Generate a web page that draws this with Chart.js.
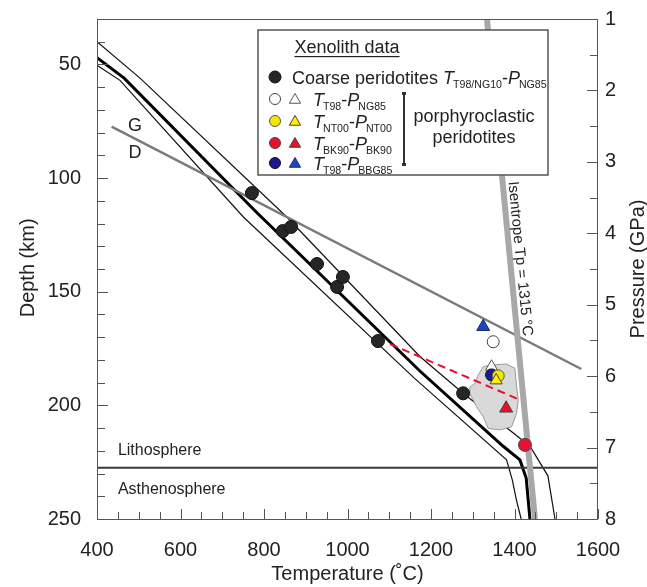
<!DOCTYPE html>
<html><head><meta charset="utf-8">
<script src="https://cdn.jsdelivr.net/npm/chart.js@4/dist/chart.umd.min.js"></script>
<style>html,body{margin:0;padding:0;background:#fff;}#wrap{width:647px;height:587px;}</style>
</head><body><div id="wrap"><canvas id="c" width="647" height="587"></canvas></div>
<script>
const FONT = '"Liberation Sans", Arial, Helvetica, sans-serif';

// ---- axis ticks ----
const tempTicks = [400, 600, 800, 1000, 1200, 1400, 1600];
const depthTicks = [50, 100, 150, 200, 250];
const pressureTicks = [1, 2, 3, 4, 5, 6, 7, 8];

// ---- geotherms (temperature °C, depth km) ----
const geoMainT = [400, 465, 782, 1174, 1373, 1413, 1428, 1437];
const geoMainD = [47, 56, 115, 185, 218, 224, 232, 250];
const geoHotT = [400, 503, 854, 1174, 1277, 1437, 1480, 1497];
const geoHotD = [40, 56, 117, 178.6, 194.7, 218, 231, 250];
const geoCoolT = [400, 455, 750, 1160, 1381, 1395, 1405, 1416];
const geoCoolD = [50.4, 57, 117, 188, 224, 233, 242, 250];

// G-D graphite-diamond line
const gdT = [435, 1560];
const gdD = [77.4, 184];
// isentrope
const isenT = [1334, 1449];
const isenD = [30, 250];
// lithosphere / asthenosphere boundary
const labT = [400, 1600];
const labD = [227.5, 227.5];
// red dashed trend
const dashT = [1102, 1413];
const dashD = [173, 197.6];
// grey field of porphyroclastic data
const blobT = [1313, 1325, 1345, 1381, 1401, 1405, 1409, 1405, 1393, 1365, 1337, 1325, 1309, 1293, 1293, 1305, 1313];
const blobD = [186.6, 183, 182.2, 181.8, 183.7, 191.8, 197.6, 203.5, 209.4, 210.8, 210.1, 205, 200.6, 194.7, 192, 190.3, 186.6];

// ---- xenolith data ----
const coarseT = [771, 845, 865, 927, 975, 989, 1073, 1277];
const coarseD = [106.6, 123.3, 121.5, 137.8, 147.9, 143.5, 171.7, 194.7];
const t98ngCircleT = [1349];  const t98ngCircleD = [172];
const t98ngTriT = [1345];     const t98ngTriD = [183];
const nt00CircleT = [1361];   const nt00CircleD = [187];
const nt00TriT = [1356];      const nt00TriD = [189];
const bk90CircleT = [1425];   const bk90CircleD = [217.4];
const bk90TriT = [1380];      const bk90TriD = [201.3];
const bbgCircleT = [1345];    const bbgCircleD = [186.6];
const bbgTriT = [1325];       const bbgTriD = [165.4];

// text annotation anchors (data coordinates)
const labelG = {T: 491, D: 77};
const labelD = {T: 491, D: 89};
const labelLitho = {T: 450, D: 220};
const labelAstheno = {T: 450, D: 237};
const labelIsenD = 135.5;
const depthTitleD = 139.5;

const pts = (T, D) => T.map((t, i) => ({x: t, y: D[i]}));

function marker(data, style, fill, stroke, r, order) {
  return {data, pointStyle: style, pointRadius: r, pointHoverRadius: r, backgroundColor: fill,
    borderColor: stroke, borderWidth: 1, pointBorderWidth: 1, showLine: false, order};
}
function line(data, color, width, order, extra) {
  return Object.assign({data, borderColor: color, borderWidth: width, pointRadius: 0, pointHoverRadius: 0,
    showLine: true, fill: false, tension: 0, order}, extra || {});
}

const datasets = [
  marker(pts(coarseT, coarseD), 'circle', '#262626', '#111', 6.5, 0),
  marker(pts(t98ngCircleT, t98ngCircleD), 'circle', '#ffffff', '#444', 6, 0),
  marker(pts(bbgTriT, bbgTriD), 'triangle', '#1f45c0', '#1a2a70', 7.5, 0),
  marker(pts(nt00TriT, nt00TriD), 'triangle', '#fff000', '#444', 7, 0),
  marker(pts(nt00CircleT, nt00CircleD), 'circle', '#f5e600', '#555', 6, 1),
  marker(pts(bbgCircleT, bbgCircleD), 'circle', '#1a1a8c', '#111', 6, 1),
  marker(pts(t98ngTriT, t98ngTriD), 'triangle', '#ffffff', '#555', 7, 1),
  marker(pts(bk90TriT, bk90TriD), 'triangle', '#e8112d', '#444', 7.5, 0),
  marker(pts(bk90CircleT, bk90CircleD), 'circle', '#e8112d', '#444', 6.5, 0),
  line(pts(dashT, dashD), '#e8112d', 2, 2, {borderDash: [8, 5]}),
  line(pts(blobT, blobD), '#9a9a9a', 1, 3, {fill: 'shape', backgroundColor: '#d9d9d9'}),
  line(pts(isenT, isenD), '#a8a8a8', 6, 4),
  line(pts(gdT, gdD), '#7a7a7a', 2.5, 5),
  line(pts(labT, labD), '#3a3a3a', 2, 6),
  line(pts(geoMainT, geoMainD), '#000', 3, 7),
  line(pts(geoHotT, geoHotD), '#111', 1.2, 8),
  line(pts(geoCoolT, geoCoolD), '#111', 1.2, 8),
];

const tickFont = {family: FONT, size: 20};
const titleFont = {family: FONT, size: 20};
const TEXT = '#222';

function richText(ctx, x, y, parts, size) {
  let cx = x;
  ctx.fillStyle = TEXT;
  ctx.textAlign = 'left'; ctx.textBaseline = 'alphabetic';
  for (const p of parts) {
    const sz = p.sub ? 10.6 : size;
    ctx.font = (p.it ? 'italic ' : '') + sz + 'px ' + FONT;
    ctx.fillText(p.t, cx, y + (p.sub ? 4 : 0));
    cx += ctx.measureText(p.t).width - (p.it ? 1 : 0);
  }
}
function circ(ctx, x, y, r, fill, stroke) {
  ctx.beginPath(); ctx.arc(x, y, r, 0, Math.PI * 2);
  ctx.fillStyle = fill; ctx.fill(); ctx.lineWidth = 1; ctx.strokeStyle = stroke; ctx.stroke();
}
function tri(ctx, x, y, r, fill, stroke) {
  ctx.beginPath();
  for (let k = 0; k < 3; k++) {
    const a = k * 2 * Math.PI / 3;
    const px = x + Math.sin(a) * r, py = y - Math.cos(a) * r;
    k ? ctx.lineTo(px, py) : ctx.moveTo(px, py);
  }
  ctx.closePath(); ctx.fillStyle = fill; ctx.fill(); ctx.lineWidth = 1; ctx.strokeStyle = stroke; ctx.stroke();
}

const decor = {
  id: 'decor',
  afterDraw(chart) {
    const ctx = chart.ctx;
    const xs = chart.scales.x, ys = chart.scales.y, ps = chart.scales.y2;
    const a = chart.chartArea;
    const X = v => xs.getPixelForValue(v), Y = v => ys.getPixelForValue(v);
    ctx.save();
    // frame
    ctx.strokeStyle = '#555'; ctx.lineWidth = 1;
    ctx.strokeRect(a.left + 0.5, a.top + 0.5, a.right - a.left - 1, a.bottom - a.top);
    // inward ticks
    ctx.beginPath();
    for (let v = 400; v <= 1600; v += 50) {
      const px = Math.round(X(v)) + 0.5, len = v % 200 === 0 ? 10 : 7;
      ctx.moveTo(px, a.bottom); ctx.lineTo(px, a.bottom - len);
    }
    for (let v = 30; v <= 250; v += 10) {
      const py = Math.round(Y(v)) + 0.5, len = v % 50 === 0 ? 11 : 8;
      ctx.moveTo(a.left, py); ctx.lineTo(a.left + len, py);
    }
    for (let v = 1; v <= 8; v += 0.5) {
      const py = Math.round(ps.getPixelForValue(v)) + 0.5, len = v % 1 === 0 ? 11 : 8;
      ctx.moveTo(a.right, py); ctx.lineTo(a.right - len, py);
    }
    ctx.stroke();

    // text annotations
    ctx.fillStyle = TEXT;
    ctx.textAlign = 'center'; ctx.textBaseline = 'middle';
    ctx.font = '18px ' + FONT;
    ctx.fillText('G', X(labelG.T), Y(labelG.D));
    ctx.fillText('D', X(labelD.T), Y(labelD.D));
    ctx.textAlign = 'left';
    ctx.font = '16px ' + FONT;
    ctx.fillText('Lithosphere', X(labelLitho.T), Y(labelLitho.D));
    ctx.fillText('Asthenosphere', X(labelAstheno.T), Y(labelAstheno.D));

    // isentrope label
    const x0 = X(isenT[0]), y0 = Y(isenD[0]), x1 = X(isenT[1]), y1 = Y(isenD[1]);
    const ang = Math.atan2(y1 - y0, x1 - x0);
    const ly = Y(labelIsenD), lx = x0 + (x1 - x0) * (ly - y0) / (y1 - y0);
    ctx.save();
    ctx.translate(lx + 10, ly);
    ctx.rotate(ang);
    ctx.textAlign = 'center'; ctx.textBaseline = 'middle';
    ctx.font = '15px ' + FONT;
    ctx.fillText('Isentrope Tp = 1315 °C', 0, 0);
    ctx.restore();

    // axis titles (left and right), rotated bottom-to-top
    ctx.font = '20px ' + FONT; ctx.fillStyle = TEXT;
    ctx.textAlign = 'center'; ctx.textBaseline = 'middle';
    ctx.save();
    ctx.translate(28, Y(depthTitleD));
    ctx.rotate(-Math.PI / 2);
    ctx.fillText('Depth (km)', 0, 0);
    ctx.restore();
    ctx.save();
    ctx.translate(638, (a.top + a.bottom) / 2);
    ctx.rotate(-Math.PI / 2);
    ctx.fillText('Pressure (GPa)', 0, 0);
    ctx.restore();

    // legend box
    ctx.fillStyle = '#fff';
    ctx.fillRect(258, 30, 290, 145);
    ctx.strokeStyle = '#555'; ctx.lineWidth = 1.5;
    ctx.strokeRect(258, 30, 290, 145);
    ctx.fillStyle = TEXT;
    ctx.textAlign = 'center'; ctx.textBaseline = 'alphabetic';
    ctx.font = '18px ' + FONT;
    ctx.fillText('Xenolith data', 347, 53);
    const w = ctx.measureText('Xenolith data').width;
    ctx.fillRect(347 - w / 2, 56, w, 1.2);
    const rows = [77, 99, 121, 143, 163];
    circ(ctx, 275, rows[0], 6, '#262626', '#111');
    richText(ctx, 292, rows[0] + 6.5, [{t: 'Coarse peridotites '}, {t: 'T', it: 1}, {t: 'T98/NG10', sub: 1}, {t: '-'}, {t: 'P', it: 1}, {t: 'NG85', sub: 1}], 18);
    circ(ctx, 275, rows[1], 5.5, '#fff', '#444');
    tri(ctx, 295, rows[1] + 1, 6.5, '#fff', '#555');
    richText(ctx, 313, rows[1] + 6.5, [{t: 'T', it: 1}, {t: 'T98', sub: 1}, {t: '-'}, {t: 'P', it: 1}, {t: 'NG85', sub: 1}], 18);
    circ(ctx, 275, rows[2], 5.5, '#f5e600', '#555');
    tri(ctx, 295, rows[2] + 1, 6.5, '#fff000', '#444');
    richText(ctx, 313, rows[2] + 6.5, [{t: 'T', it: 1}, {t: 'NT00', sub: 1}, {t: '-'}, {t: 'P', it: 1}, {t: 'NT00', sub: 1}], 18);
    circ(ctx, 275, rows[3], 5.5, '#e8112d', '#444');
    tri(ctx, 295, rows[3] + 1, 6.5, '#e8112d', '#444');
    richText(ctx, 313, rows[3] + 6.5, [{t: 'T', it: 1}, {t: 'BK90', sub: 1}, {t: '-'}, {t: 'P', it: 1}, {t: 'BK90', sub: 1}], 18);
    circ(ctx, 275, rows[4], 5.5, '#1a1a8c', '#111');
    tri(ctx, 295, rows[4] + 1, 6.5, '#1f45c0', '#1a2a70');
    richText(ctx, 313, rows[4] + 6.5, [{t: 'T', it: 1}, {t: 'T98', sub: 1}, {t: '-'}, {t: 'P', it: 1}, {t: 'BBG85', sub: 1}], 18);
    // bracket
    ctx.fillStyle = '#333';
    ctx.fillRect(403, 92, 2, 74);
    ctx.fillRect(402, 92, 4, 3);
    ctx.fillRect(402, 163, 4, 3);
    ctx.fillStyle = TEXT;
    ctx.textAlign = 'center'; ctx.textBaseline = 'alphabetic';
    ctx.font = '18px ' + FONT;
    ctx.fillText('porphyroclastic', 474, 121.5);
    ctx.fillText('peridotites', 474, 143);
    ctx.restore();
  }
};

const plainNum = v => String(v);
const noPadV = s => { s.paddingTop = 0; s.paddingBottom = 0; };

new Chart(document.getElementById('c'), {
  type: 'line',
  data: {datasets},
  options: {
    responsive: false, animation: false, devicePixelRatio: 1,
    layout: {padding: {left: 0, right: 0, top: 19, bottom: 0}},
    plugins: {legend: {display: false}, tooltip: {enabled: false}},
    events: [],
    scales: {
      x: {
        type: 'linear', min: 400, max: 1600,
        afterBuildTicks: s => { s.ticks = tempTicks.map(v => ({value: v})); },
        afterFit: s => { s.height = 68; s.paddingLeft = 0; s.paddingRight = 0; },
        ticks: {font: tickFont, color: TEXT, padding: 19, maxRotation: 0, autoSkip: false, callback: plainNum},
        grid: {display: false, drawTicks: false}, border: {display: false},
        title: {display: true, text: 'Temperature (˚C)', font: titleFont, color: TEXT, padding: {top: 0, bottom: 1}}
      },
      y: {
        type: 'linear', position: 'left', reverse: true, min: 30, max: 250,
        afterBuildTicks: s => { s.ticks = depthTicks.map(v => ({value: v})); },
        afterFit: s => { s.width = 97; noPadV(s); },
        ticks: {font: tickFont, color: TEXT, padding: 16, autoSkip: false, callback: plainNum},
        grid: {display: false, drawTicks: false}, border: {display: false}
      },
      y2: {
        type: 'linear', position: 'right', reverse: true, min: 1, max: 8,
        afterBuildTicks: s => { s.ticks = pressureTicks.map(v => ({value: v})); },
        afterFit: s => { s.width = 49; noPadV(s); },
        ticks: {font: tickFont, color: TEXT, padding: 7, autoSkip: false, callback: plainNum},
        grid: {display: false, drawTicks: false}, border: {display: false}
      }
    }
  },
  plugins: [decor]
});
</script></body></html>
